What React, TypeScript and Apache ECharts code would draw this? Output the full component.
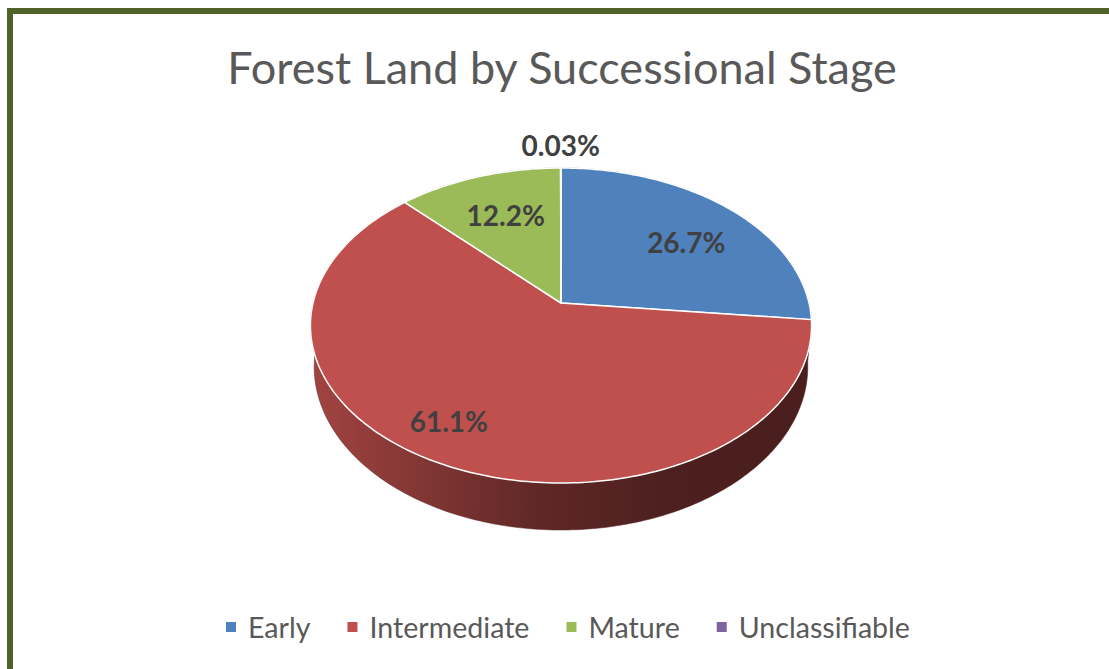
import React, { useEffect, useRef } from "react";
import * as echarts from "echarts";

const categories = ["Early", "Intermediate", "Mature", "Unclassifiable"];
const shares = [26.7, 61.1, 12.2, 0.03];
const colors = ["#4f81bd", "#c0504d", "#9bbb59", "#8064a2"];
const titleText = "Forest Land by Successional Stage";

// geometry / style (not data)
const CX = 561;
const CY = 303;
const R = 248;
const RY = 154.3;
const K = 0.1429;
const H0 = 40.3;
const BSCALE = 0.985;
const FONT = "Lato, 'Open Sans', sans-serif";
// label placement tuning (fraction of radius, angular shift in degrees)
const labelRadius = [0.68, 0.8, 0.67, 1];
const labelShiftDeg = [3.9, 4.6, 0.8, 0];

const total = shares.reduce((a, b) => a + b, 0);
const starts: number[] = [];
{
  let acc = 0;
  shares.forEach((v) => {
    starts.push(acc);
    acc += v;
  });
}

function project(fu: number, fv: number): [number, number] {
  const s = 1 / (1 - K * fv);
  return [CX + R * fu * s, CY + RY * fv * s];
}
function rimPoint(theta: number, f = 1): [number, number] {
  return project(f * Math.sin(theta), -f * Math.cos(theta));
}
function bottomPoint(theta: number): [number, number] {
  const v = -Math.cos(theta);
  const [x, y] = rimPoint(theta);
  const s = 1 / (1 - K * v);
  return [CX + (x - CX) * BSCALE, y + H0 * s];
}
function angles(i: number): [number, number] {
  const a0 = (starts[i] / total) * Math.PI * 2;
  const a1 = ((starts[i] + shares[i]) / total) * Math.PI * 2;
  return [a0, a1];
}
function sampleAngles(a0: number, a1: number): number[] {
  const n = Math.max(2, Math.ceil(((a1 - a0) * 180) / Math.PI) + 1);
  const out: number[] = [];
  for (let j = 0; j <= n; j++) out.push(a0 + ((a1 - a0) * j) / n);
  return out;
}
function shade(hex: string, f: number): string {
  const n = parseInt(hex.slice(1), 16);
  const r = Math.round(((n >> 16) & 255) * f);
  const g = Math.round(((n >> 8) & 255) * f);
  const b = Math.round((n & 255) * f);
  return `rgb(${r},${g},${b})`;
}

export default function App() {
  const ref = useRef<HTMLDivElement>(null);
  useEffect(() => {
    if (!ref.current) return;
    const chart = echarts.init(ref.current, undefined, { renderer: "svg" });
    const data = categories.map((name, i) => ({ name, value: shares[i] }));

    const renderSide = (params: any) => {
      const i = params.dataIndex;
      const [a0, a1] = angles(i);
      const ts = sampleAngles(a0, a1);
      const top = ts.map((t) => rimPoint(t));
      const bot = ts.map((t) => bottomPoint(t)).reverse();
      const c = colors[i];
      return {
        type: "polygon",
        shape: { points: top.concat(bot) },
        style: {
          fill: new echarts.graphic.LinearGradient(
            CX - R * 1.02,
            0,
            CX + R * 1.02,
            0,
            [
              { offset: 0, color: shade(c, 0.85) },
              { offset: 0.45, color: shade(c, 0.5) },
              { offset: 0.7, color: shade(c, 0.4) },
              { offset: 1, color: shade(c, 0.38) },
            ],
            true
          ),
          stroke: shade(c, 0.45),
          lineWidth: 0.5,
        },
      };
    };

    const renderTop = (params: any) => {
      const i = params.dataIndex;
      const [a0, a1] = angles(i);
      const ts = sampleAngles(a0, a1);
      const pts = [project(0, 0) as [number, number]].concat(ts.map((t) => rimPoint(t)));
      return {
        type: "polygon",
        shape: { points: pts },
        style: { fill: colors[i], stroke: "#ffffff", lineWidth: 1.5, lineJoin: "round" },
      };
    };

    const renderLabel = (params: any, api: any) => {
      const i = params.dataIndex;
      const v = api.value(0);
      const [a0, a1] = angles(i);
      const mid = (a0 + a1) / 2 + (labelShiftDeg[i] * Math.PI) / 180;
      let x: number;
      let y: number;
      const pct = (v / total) * 100;
      if (pct < 3) {
        const [rx, ry] = rimPoint(mid);
        x = rx + 24 * Math.sin(mid);
        y = ry - 23 * Math.cos(mid);
      } else {
        [x, y] = rimPoint(mid, labelRadius[i]);
      }
      const txt = v < 1 ? v.toFixed(2) + "%" : v.toFixed(1) + "%";
      return {
        type: "text",
        x,
        y,
        style: {
          text: txt,
          fill: "#404040",
          fontSize: 28,
          fontWeight: "bold",
          fontFamily: FONT,
          align: "center",
          verticalAlign: "middle",
        },
      };
    };

    chart.setOption({
      animation: false,
      backgroundColor: "#ffffff",
      color: colors,
      title: {
        text: titleText,
        left: 557,
        top: 39,
        textAlign: "center",
        textStyle: { fontFamily: FONT, fontSize: 45, fontWeight: "normal", color: "#595959" },
      },
      legend: {
        data: categories,
        left: 226,
        top: 611,
        padding: 0,
        icon: "rect",
        itemWidth: 10,
        itemHeight: 10,
        itemGap: 37,
        textStyle: {
          fontFamily: FONT,
          fontSize: 28.6,
          color: "#595959",
          padding: [0, 0, 0, 7],
          lineHeight: 32,
        },
      },
      graphic: [
        {
          type: "rect",
          shape: { x: 10, y: 11, width: 1300, height: 900 },
          style: { fill: "none", stroke: "#4f6228", lineWidth: 6 },
          z: 100,
        },
      ],
      series: [
        {
          type: "pie",
          name: "legendProxy",
          radius: [0, 0],
          center: [-50, -50],
          data,
          label: { show: false },
          labelLine: { show: false },
          silent: true,
        },
        { type: "custom", name: "side", coordinateSystem: "none", data, renderItem: renderSide, z: 1, silent: true },
        { type: "custom", name: "top", coordinateSystem: "none", data, renderItem: renderTop, z: 2, silent: true },
        { type: "custom", name: "labels", coordinateSystem: "none", data, renderItem: renderLabel, z: 3, silent: true },
      ],
    });
    return () => chart.dispose();
  }, []);
  return (
    <div
      ref={ref}
      style={{ position: "fixed", left: 0, top: 0, width: 1109, height: 669 }}
    />
  );
}
